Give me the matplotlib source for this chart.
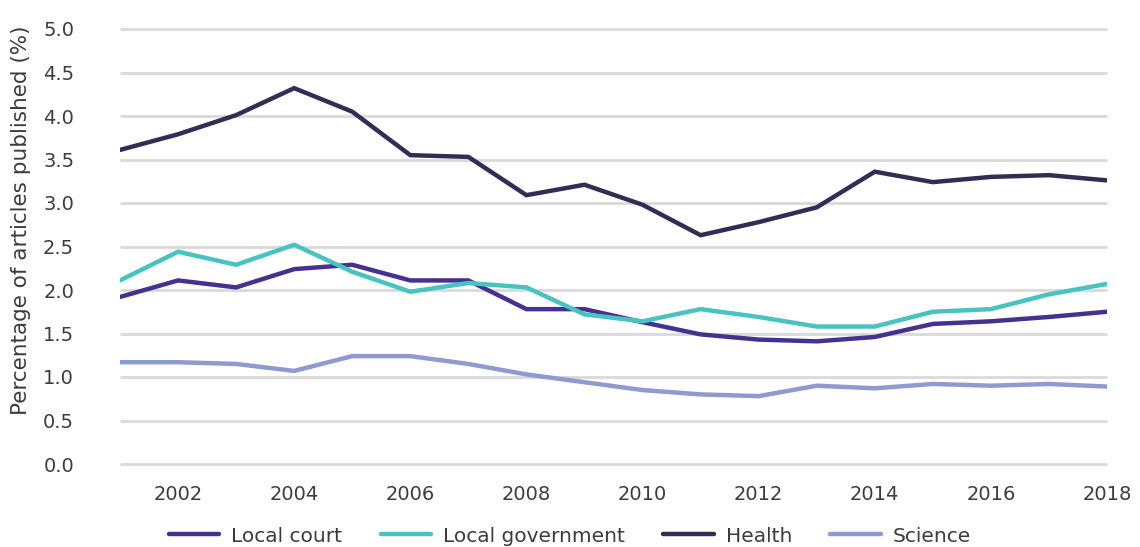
import matplotlib
matplotlib.use("Agg")
import matplotlib.pyplot as plt

years = list(range(2001, 2019))
local_court = [1.92, 2.11, 2.03, 2.24, 2.29, 2.11, 2.11, 1.78, 1.78, 1.63, 1.49, 1.43, 1.41, 1.46, 1.61, 1.64, 1.69, 1.75]
local_government = [2.11, 2.44, 2.29, 2.52, 2.21, 1.98, 2.08, 2.03, 1.72, 1.64, 1.78, 1.69, 1.58, 1.58, 1.75, 1.78, 1.95, 2.07]
health = [3.61, 3.79, 4.01, 4.32, 4.05, 3.55, 3.53, 3.09, 3.21, 2.98, 2.63, 2.78, 2.95, 3.36, 3.24, 3.30, 3.32, 3.26]
science = [1.17, 1.17, 1.15, 1.07, 1.24, 1.24, 1.15, 1.03, 0.94, 0.85, 0.80, 0.78, 0.90, 0.87, 0.92, 0.90, 0.92, 0.89]

series = [
    ("Local court", local_court, "#47318e"),
    ("Local government", local_government, "#48c3c1"),
    ("Health", health, "#352c55"),
    ("Science", science, "#8e9ad0"),
]
xticks = list(range(2002, 2019, 2))
yticks = [i * 0.5 for i in range(11)]

plt.rcParams['font.family'] = ['DejaVu Sans']
txt = '#3c3c3c'
fig = plt.figure(figsize=(11.4, 5.47), dpi=100)
ax = fig.add_axes([120/1140, 1-464/547, (1107-120)/1140, (464-29)/547])

for name, vals, col in series:
    ax.plot(years, vals, color=col, lw=3.2, label=name, solid_capstyle='round', solid_joinstyle='miter')

ax.set_xlim(2001, 2018)
ax.set_ylim(0, 5.0)
ax.set_yticks(yticks)
ax.set_yticklabels([f"{v:.1f}" for v in yticks])
ax.set_xticks(xticks)
ax.set_xticklabels([str(x) for x in xticks])
ax.tick_params(axis='both', length=0, labelsize=14, colors=txt)
ax.tick_params(axis='y', pad=33)
ax.tick_params(axis='x', pad=15)
ax.yaxis.grid(True, color='#d9d9d9', lw=2)
for gl in ax.get_ygridlines():
    gl.set_clip_on(False)
    gl.set_solid_capstyle('butt')
ax.set_axisbelow(True)
for s in ax.spines.values():
    s.set_visible(False)
ax.set_ylabel("Percentage of articles published (%)", fontsize=15.5, color=txt)
ax.yaxis.set_label_coords(-89/987, (464-220)/435)

leg = fig.legend(loc='center', bbox_to_anchor=(0.5, 1-536/547), ncol=4, frameon=False,
                 fontsize=14.5, handlelength=2.5, columnspacing=1.9, handletextpad=0.6)
for t in leg.get_texts():
    t.set_color(txt)

fig.savefig("out.png", dpi=100)
